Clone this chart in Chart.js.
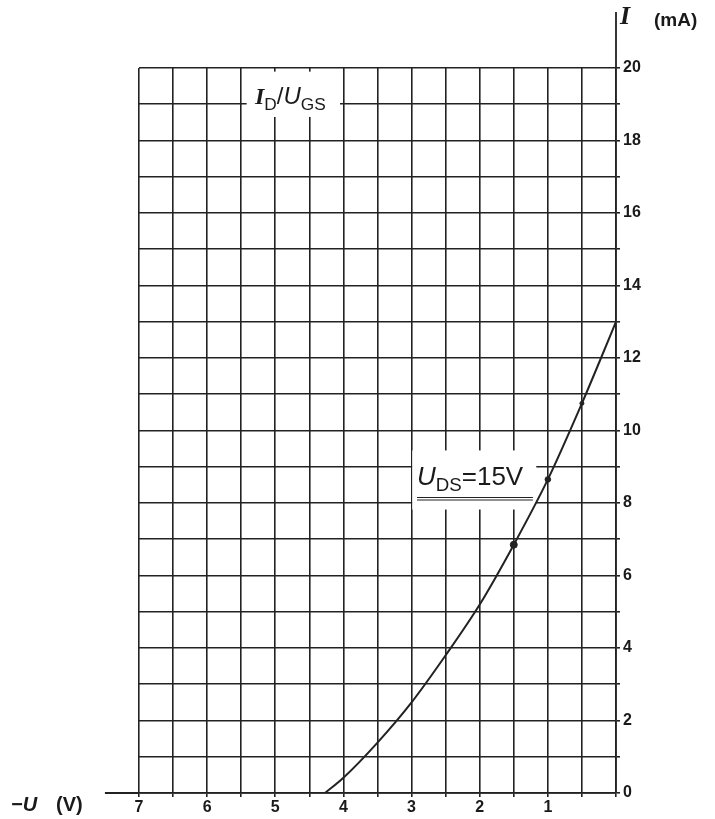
<!DOCTYPE html>
<html>
<head>
<meta charset="utf-8">
<script src="https://cdn.jsdelivr.net/npm/chart.js@4.4.1/dist/chart.umd.min.js"></script>
<style>
  body { margin:0; background:#fff; }
  #wrap { position:relative; width:715px; height:819px; }
  .lbl { position:absolute; color:#1a1a1a; font-family:"Liberation Sans", Arial, sans-serif; font-weight:bold; white-space:nowrap; line-height:1; }
  .serif { font-family:"Liberation Serif", "DejaVu Serif", serif; font-style:italic; font-weight:bold; }
  .it { font-style:italic; }
  sub { font-size:0.72em; vertical-align:-0.32em; font-style:normal; }
</style>
</head>
<body>
<div id="wrap">
  <canvas id="fetChart" width="715" height="819"></canvas>
  <div class="lbl serif" style="left:620px;top:3px;font-size:26px;">I</div>
  <div class="lbl" style="left:654px;top:10px;font-size:19px;">(mA)</div>
  <div class="lbl it" style="left:11px;top:794px;font-size:20px;">&minus;U</div>
  <div class="lbl" style="left:56px;top:794px;font-size:20px;">(V)</div>
  <div class="lbl" style="left:255px;top:84px;font-size:24px;font-weight:500;"><span class="serif">I</span><sub>D</sub>/<span class="it">U</span><sub>GS</sub></div>
  <div class="lbl" style="left:417px;top:463px;font-size:26px;font-weight:500;"><span class="it">U</span><sub>DS</sub>=15V</div>
</div>
<script>
// drain current vs gate voltage (-U in V, I in mA)
const uValues = [4.27, 4.0, 3.5, 3.0, 2.5, 2.0, 1.5, 1.0, 0.5, 0.22, 0];
const iValues = [0, 0.42, 1.39, 2.5, 3.8, 5.2, 6.85, 8.65, 10.75, 12.0, 13.0];
// measured points marked on the curve
const markU = [1.5, 1.0, 0.5];
const markI = [6.85, 8.65, 10.75];
const xTicks = [7, 6, 5, 4, 3, 2, 1];
const yTicks = [0, 2, 4, 6, 8, 10, 12, 14, 16, 18, 20];

const ink = '#222';

// white patches behind the two labels, underline, extended axes
const paperPlugin = {
  id: 'paper',
  beforeDatasetsDraw(chart) {
    const c = chart.ctx, x = chart.scales.x, y = chart.scales.y;
    c.save();
    c.fillStyle = '#fff';
    const boxes = [[5.42, 4.05, 19.9, 18.65], [2.99, 1.17, 9.45, 7.82]];
    boxes.forEach(b => {
      const x1 = x.getPixelForValue(b[0]), x2 = x.getPixelForValue(b[1]);
      const y1 = y.getPixelForValue(b[2]), y2 = y.getPixelForValue(b[3]);
      c.fillRect(x1, y1, x2 - x1, y2 - y1);
    });
    c.strokeStyle = ink;
    c.lineWidth = 1.1;
    const uy = y.getPixelForValue(8.15);
    const ux1 = x.getPixelForValue(2.92), ux2 = x.getPixelForValue(1.22);
    c.beginPath();
    c.moveTo(ux1, uy); c.lineTo(ux2, uy);
    c.moveTo(ux1, uy + 2.5); c.lineTo(ux2, uy + 2.5);
    c.stroke();
    c.restore();
  },
  afterDraw(chart) {
    const c = chart.ctx, x = chart.scales.x, y = chart.scales.y;
    c.save();
    c.strokeStyle = ink;
    c.lineWidth = 1.8;
    c.beginPath();
    c.moveTo(x.getPixelForValue(7.5), y.getPixelForValue(0));
    c.lineTo(x.getPixelForValue(7), y.getPixelForValue(0));
    c.moveTo(x.getPixelForValue(0), y.getPixelForValue(20));
    c.lineTo(x.getPixelForValue(0), 12);
    c.stroke();
    c.restore();
  }
};

const chart = new Chart(document.getElementById('fetChart'), {
  type: 'line',
  data: {
    datasets: [{
      label: 'UDS=15V',
      data: uValues.map((u, i) => ({x: u, y: iValues[i]})),
      borderColor: ink,
      borderWidth: 2,
      pointRadius: 0,
      cubicInterpolationMode: 'monotone',
      fill: false
    }, {
      type: 'scatter',
      label: 'marks',
      data: markU.map((u, i) => ({x: u, y: markI[i]})),
      backgroundColor: ink,
      borderColor: ink,
      pointRadius: [3.5, 2.8, 2]
    }]
  },
  options: {
    responsive: false,
    animation: false,
    devicePixelRatio: 1,
    layout: { padding: { left: 139, top: 68, right: 0, bottom: 0 } },
    plugins: { legend: { display: false }, tooltip: { enabled: false } },
    scales: {
      x: {
        type: 'linear',
        min: 0, max: 7,
        reverse: true,
        afterFit: s => { s.height = 26; },
        grid: { color: ink, lineWidth: 1.6, tickLength: 4, drawTicks: true },
        border: { color: ink, width: 1.8 },
        ticks: {
          stepSize: 0.5,
          autoSkip: false,
          maxRotation: 0,
          padding: 1,
          color: '#1a1a1a',
          font: { family: 'Liberation Sans', size: 16, weight: 'bold' },
          callback: v => xTicks.includes(v) ? String(v) : ''
        }
      },
      y: {
        type: 'linear',
        position: 'right',
        min: 0, max: 20,
        afterFit: s => { s.width = 99; },
        grid: { color: ink, lineWidth: 1.6, tickLength: 4, drawTicks: true },
        border: { color: ink, width: 1.8 },
        ticks: {
          stepSize: 1,
          autoSkip: false,
          padding: 3,
          color: '#1a1a1a',
          font: { family: 'Liberation Sans', size: 16, weight: 'bold' },
          callback: v => yTicks.includes(v) ? String(v) : ''
        }
      }
    }
  },
  plugins: [paperPlugin]
});
</script>
</body>
</html>
